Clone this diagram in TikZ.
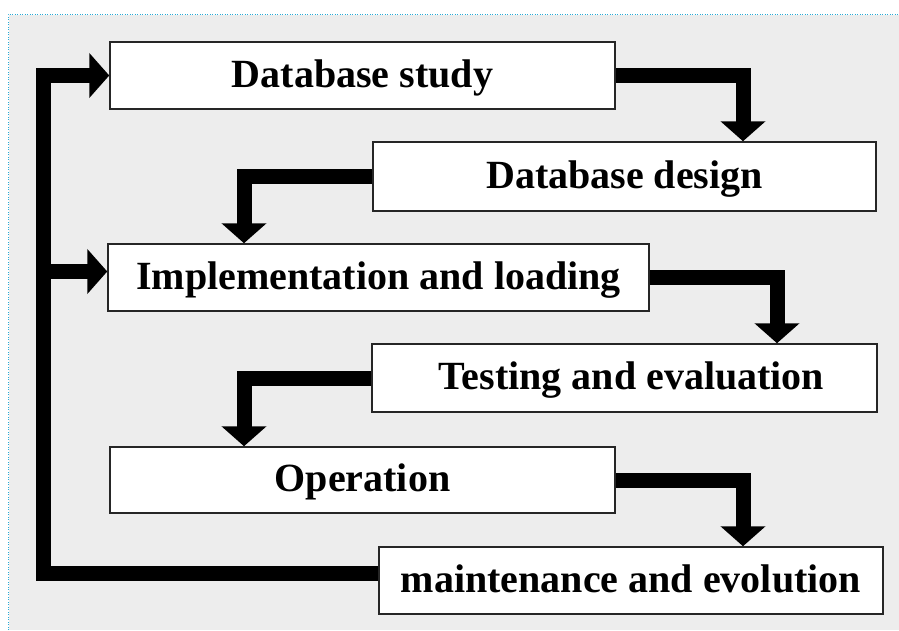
\documentclass[tikz,border=0pt]{standalone}
\usepackage{fontspec}
\setmainfont{Liberation Serif}
\usetikzlibrary{arrows.meta}
\definecolor{panel}{RGB}{237,237,237}
\definecolor{frame}{RGB}{40,170,215}
\tikzset{
    phase/.style={draw=black!85, line width=1.5pt, fill=white, minimum height=67pt,
        text height=27pt, text depth=4pt, font=\bfseries\fontsize{40}{44}\selectfont},
    flow/.style={line width=15pt, line join=miter,
        -{Triangle[width=44pt,length=20pt]}}
}
\begin{document}
\begin{tikzpicture}[x=1pt,y=-1pt]
        \useasboundingbox (0,0) rectangle (899,630);
        %% grey panel with its dotted edge
        \fill[panel] (9,15) rectangle (899,630);
        \draw[frame, line width=1pt, dash pattern=on 1pt off 1.5pt] (8,630) -- (8,14) -- (899,14);
        %% the phases
        \node[phase, minimum width=505pt] (study) at (362.5,75.5) {Database study};
        \node[phase, minimum width=503pt, minimum height=69pt] (design) at (624.5,176.5) {Database design};
        \node[phase, minimum width=541pt] (impl) at (378.5,277.5) {Implementation and loading};
        \node[phase, minimum width=505pt, minimum height=68pt] (test) at (624.5,378) {\hspace{14pt}Testing and evaluation};
        \node[phase, minimum width=505pt, minimum height=66pt] (oper) at (362.5,480) {Operation};
        \node[phase, minimum width=504pt] (maint) at (631,580.5) {maintenance and evolution};
        %% step down from one phase to the next
        \draw[flow] (study.east) -| ([xshift=118.5]design.north);
        \draw[flow] (design.west) -| ([xshift=-134.5]impl.north);
        \draw[flow] (impl.east) -| ([xshift=152.5]test.north);
        \draw[flow] (test.west) -| ([xshift=-118.5]oper.north);
        \draw[flow] (oper.east) -| ([xshift=112]maint.north);
        %% feedback rail on the left
        \coordinate (rail) at (43,0);
        \coordinate (back) at ([yshift=6]impl.west);
        \draw[flow] ([yshift=7.5]maint.west) -| (rail |- study.west) -- (study.west);
        \draw[flow] (rail |- back) -- (back);
    \end{tikzpicture}
\end{document}
